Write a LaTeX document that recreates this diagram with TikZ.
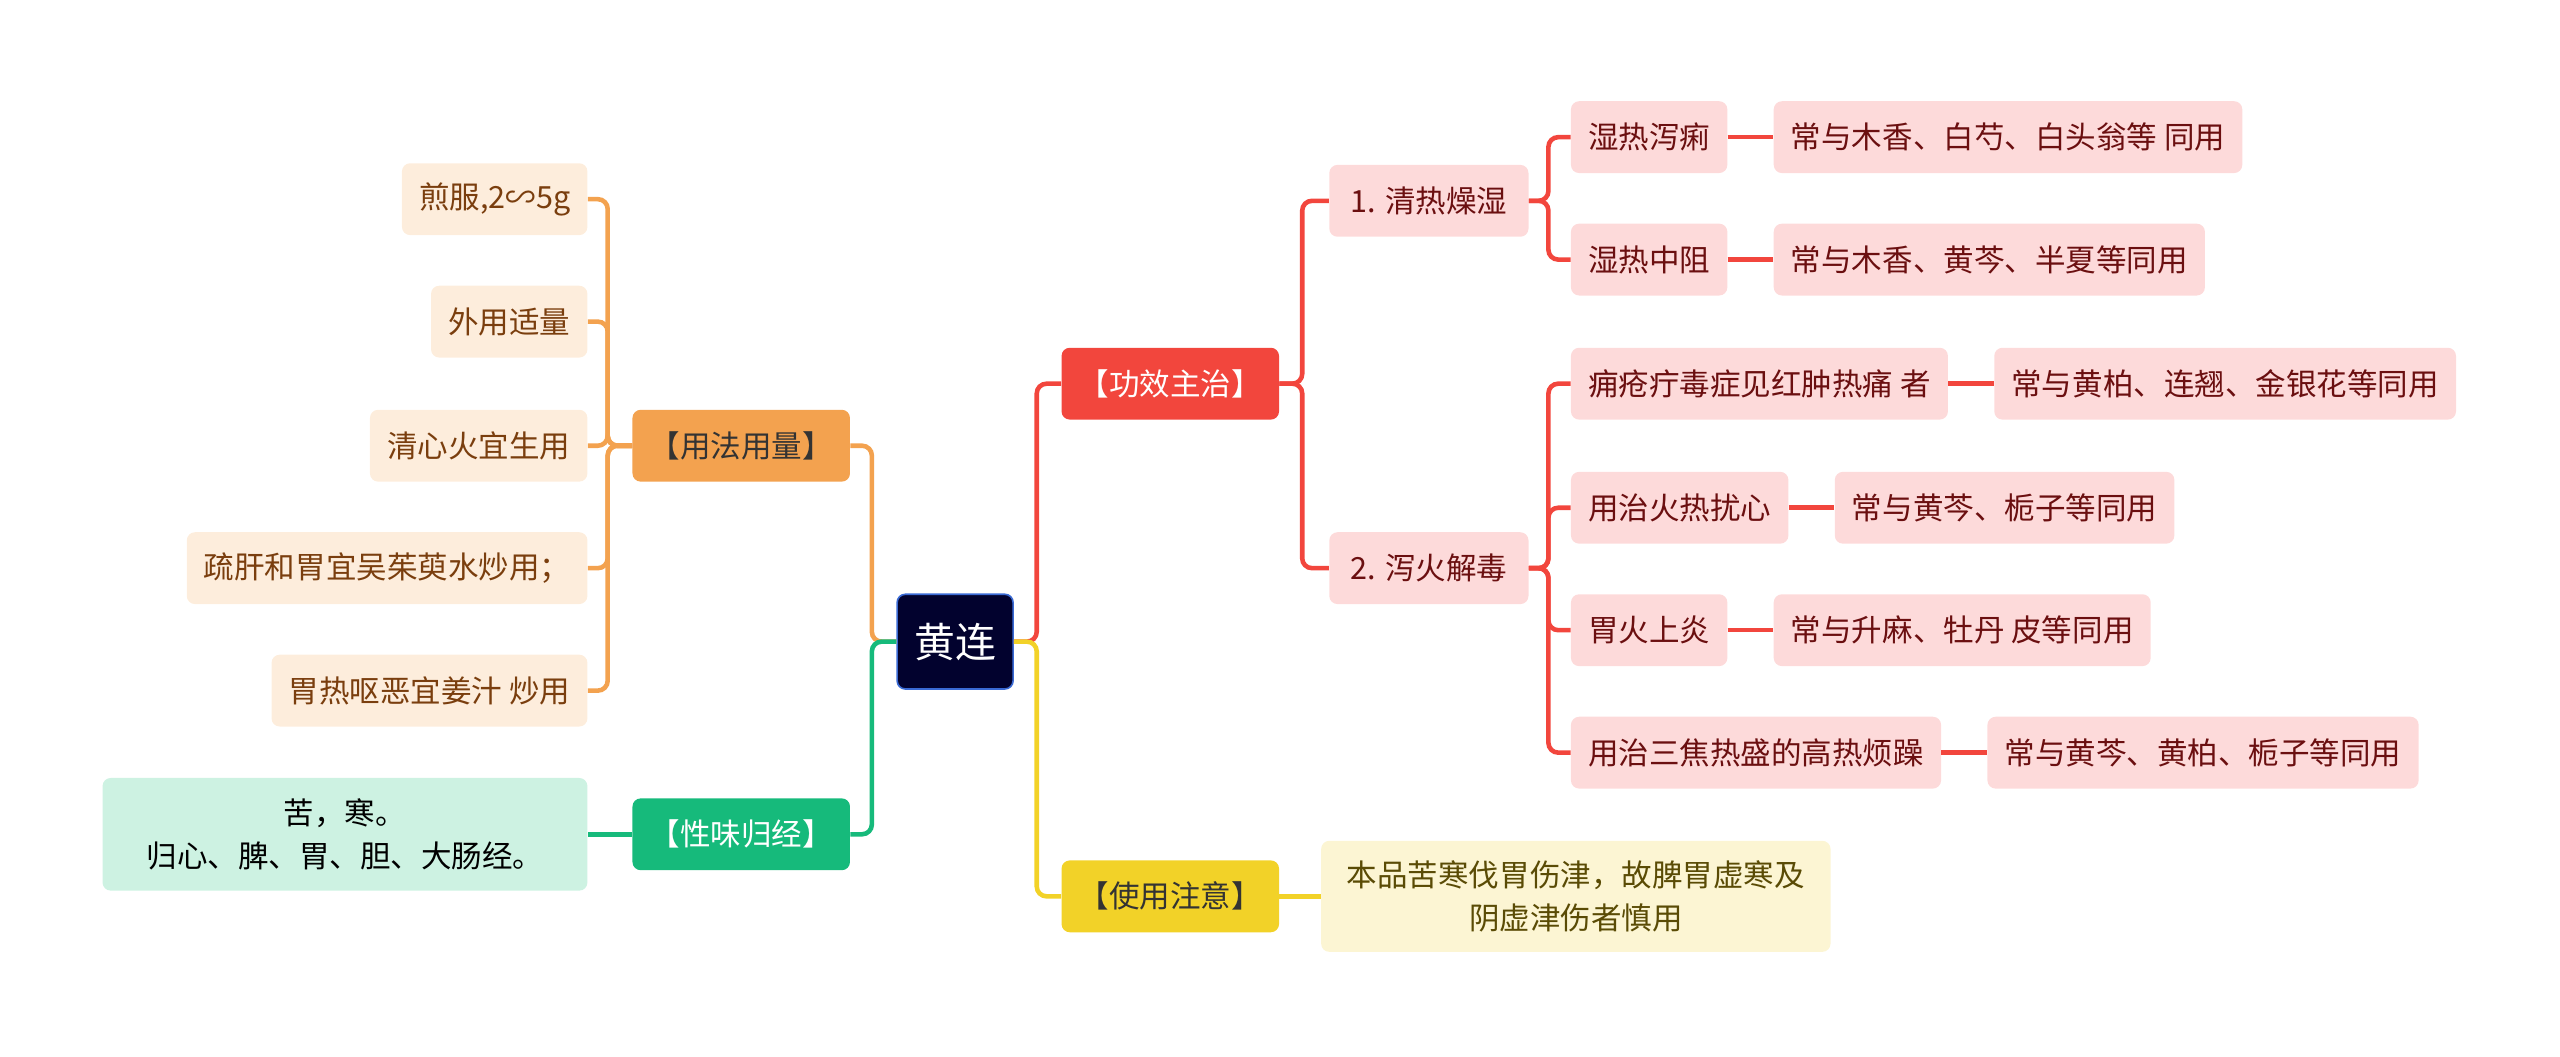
\documentclass[tikz,border=0pt]{standalone}
\usepackage{fontspec}
\setmainfont{Noto Sans CJK SC}
\usetikzlibrary{positioning,calc}
\definecolor{rootF}{HTML}{02022E}
\definecolor{rootD}{HTML}{3A6AD4}
\definecolor{orgF}{HTML}{F3A24F}
\definecolor{orgL}{HTML}{FDEDDC}
\definecolor{orgT}{HTML}{7A3E0E}
\definecolor{grnF}{HTML}{16BA7B}
\definecolor{grnL}{HTML}{CDF2E2}
\definecolor{redF}{HTML}{F2463D}
\definecolor{redL}{HTML}{FDDADA}
\definecolor{redT}{HTML}{6B0F10}
\definecolor{ylwF}{HTML}{F2D228}
\definecolor{ylwL}{HTML}{FCF5D3}
\definecolor{ylwT}{HTML}{5A4B05}
\tikzset{
  box/.style={rounded corners=5pt,minimum height=44pt,inner xsep=10.5pt,inner ysep=0pt,
    font=\fontsize{18.7}{26}\selectfont,align=center},
  rootbox/.style={box,fill=rootF,draw=rootD,line width=1pt,text=white,
    minimum height=58pt,font=\fontsize{25}{30}\selectfont},
  orgmain/.style={box,fill=orgF,text=black!80},
  orgleaf/.style={box,fill=orgL,text=orgT},
  grnmain/.style={box,fill=grnF,text=white},
  grnleaf/.style={box,fill=grnL,text=black,minimum width=297pt,minimum height=69pt},
  redmain/.style={box,fill=redF,text=white},
  redleaf/.style={box,fill=redL,text=redT},
  ylwmain/.style={box,fill=ylwF,text=black!80},
  ylwleaf/.style={box,fill=ylwL,text=ylwT,minimum width=312pt,minimum height=68pt},
  link/.style={line width=2.8pt,rounded corners=6pt},
  orgln/.style={link,draw=orgF},
  grnln/.style={link,draw=grnF},
  redln/.style={link,draw=redF},
  ylwln/.style={link,draw=ylwF},
}
\begin{document}
\begin{tikzpicture}[x=1pt,y=-1pt]
  \useasboundingbox (0,0) rectangle (1568,647);
  % centre
  \node[rootbox] (root) at (585,393) {黄连};
  % left: usage and dose
  \node[orgmain] (yf) at (454,273) {【用法用量】};
  \draw[orgln] (root.west) -- ++(-15,0) |- (yf.east);
  \foreach \n/\y/\t in {y1/122/{煎服,2∽5g}, y2/197/{外用适量}, y3/273/{清心火宜生用},
      y4/348/{疏肝和胃宜吴茱萸水炒用；}, y5/423/{胃热呕恶宜姜汁 炒用}}{
    \node[orgleaf,anchor=east] (\n) at (360,\y) {\t};
    \draw[orgln] (yf.west) -- ++(-15,0) |- (\n.east);
  }
  % left: nature and channels
  \node[grnmain] (xw) at (454,511) {【性味归经】};
  \draw[grnln] (root.west) -- ++(-15,0) |- (xw.east);
  \node[grnleaf,anchor=east] (x1) at (360,511) {苦，寒。\\归心、脾、胃、胆、大肠经。};
  \draw[grnln] (xw.west) -- (x1.east);
  % right: actions
  \node[redmain,anchor=west] (gx) at (650,235) {【功效主治】};
  \draw[redln] (root.east) -- ++(14,0) |- (gx.west);
  \node[redleaf,anchor=west,minimum width=122pt] (q1) at (814,123) {1. 清热燥湿};
  \node[redleaf,anchor=west,minimum width=122pt] (q2) at (814,348) {2. 泻火解毒};
  \foreach \q in {q1,q2}
    \draw[redln] (gx.east) -- ++(14,0) |- (\q.west);
  \foreach \p/\n/\y/\a/\b in {
      q1/a1/84/{湿热泻痢}/{常与木香、白芍、白头翁等 同用},
      q1/a2/159/{湿热中阻}/{常与木香、黄芩、半夏等同用},
      q2/b1/235/{痈疮疔毒症见红肿热痛 者}/{常与黄柏、连翘、金银花等同用},
      q2/b2/311/{用治火热扰心}/{常与黄芩、栀子等同用},
      q2/b3/386/{胃火上炎}/{常与升麻、牡丹 皮等同用},
      q2/b4/461/{用治三焦热盛的高热烦躁}/{常与黄芩、黄柏、栀子等同用}}{
    \node[redleaf,anchor=west] (\n) at (962,\y) {\a};
    \node[redleaf,right=28pt of \n] (\n r) {\b};
    \draw[redln] (\p.east) -- ++(12,0) |- (\n.west);
    \draw[redln] (\n.east) -- (\n r.west);
  }
  % right: cautions
  \node[ylwmain,anchor=west] (sy) at (650,549) {【使用注意】};
  \draw[ylwln] (root.east) -- ++(14,0) |- (sy.west);
  \node[ylwleaf,anchor=west] (s1) at (809,549) {本品苦寒伐胃伤津，故脾胃虚寒及\\阴虚津伤者慎用};
  \draw[ylwln] (sy.east) -- (s1.west);
\end{tikzpicture}
\end{document}
